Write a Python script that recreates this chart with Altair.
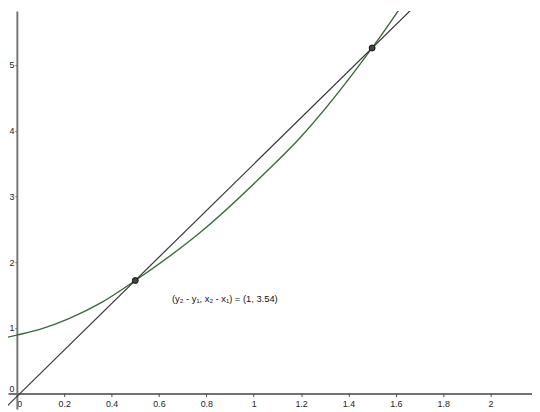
import altair as alt
import pandas as pd

# --- data ---
curve_x = [-0.06, 0.0, 0.1, 0.22, 0.36, 0.5, 0.78, 1.04, 1.19, 1.5, 1.7]
curve_y = [0.84, 0.89, 0.98, 1.14, 1.39, 1.72, 2.47, 3.33, 3.87, 5.26, 6.30]
secant_x = [-0.1, 1.8]
secant_y = [-0.40, 6.32]
point_x = [0.5, 1.5]
point_y = [1.72, 5.26]
x_ticks = [0, 0.2, 0.4, 0.6, 0.8, 1, 1.2, 1.4, 1.6, 1.8, 2]
y_ticks = [0, 1, 2, 3, 4, 5]
note_text = ["(y\u2082 - y\u2081, x\u2082 - x\u2081) = (1, 3.54)"]
note_x = [0.655]
note_y = [1.44]

curve_df = pd.DataFrame({"x": curve_x, "y": curve_y})
secant_df = pd.DataFrame({"x": secant_x, "y": secant_y})
points_df = pd.DataFrame({"x": point_x, "y": point_y})
note_df = pd.DataFrame({"x": note_x, "y": note_y, "t": note_text})

W, H = 532, 404
FONT = "Liberation Sans"

x_axis = alt.Axis(
    values=x_ticks, title=None, offset=-15.7, domainColor="#444", domainWidth=1.5,
    tickColor="#444", tickSize=3, labelPadding=3, labelFont=FONT, labelFontSize=9,
    labelColor="#222", labelFlush=False, labelOverlap=False, labelBound=False,
    format="~g",
    labelAlign={"condition": {"test": "datum.value === 0", "value": "left"}, "value": "center"},
    grid=False,
)
y_axis = alt.Axis(
    values=y_ticks, title=None, offset=-9, domainColor="#777", domainWidth=2,
    tickColor="#555", tickSize=2, labelPadding=1, labelFont=FONT, labelFontSize=9,
    labelColor="#222", labelFlush=False, labelOverlap=False, labelBound=False,
    format="~g",
    labelBaseline={"condition": {"test": "datum.value === 0", "value": "bottom"}, "value": "middle"},
    grid=False,
)
xs = alt.Scale(domain=[-0.0374, 2.175], nice=False, zero=False)
ys = alt.Scale(domain=[-0.235, 5.822], nice=False, zero=False)


def X():
    return alt.X("x:Q", scale=xs, axis=x_axis)


def Y():
    return alt.Y("y:Q", scale=ys, axis=y_axis)


curve = alt.Chart(curve_df).mark_line(
    clip=True, color="#3b6a3b", strokeWidth=1.4, interpolate="monotone"
).encode(x=X(), y=Y())

secant = alt.Chart(secant_df).mark_line(
    clip=True, color="#333333", strokeWidth=1.2
).encode(x=X(), y=Y())

points = alt.Chart(points_df).mark_point(
    filled=True, size=36, color="#444444", stroke="#111111", strokeWidth=1, opacity=1
).encode(x=X(), y=Y())

note = alt.Chart(note_df).mark_text(
    align="left", baseline="middle", font=FONT, fontSize=9.5, color="#111111"
).encode(x=X(), y=Y(), text="t:N")

chart = alt.layer(curve, secant, points, note).properties(
    width=W, height=H, padding=0, autosize=alt.AutoSizeParams(type="none"),
    background="white",
).configure_view(stroke=None)

chart.save("out.html", embed_options={"renderer": "svg", "actions": False})
